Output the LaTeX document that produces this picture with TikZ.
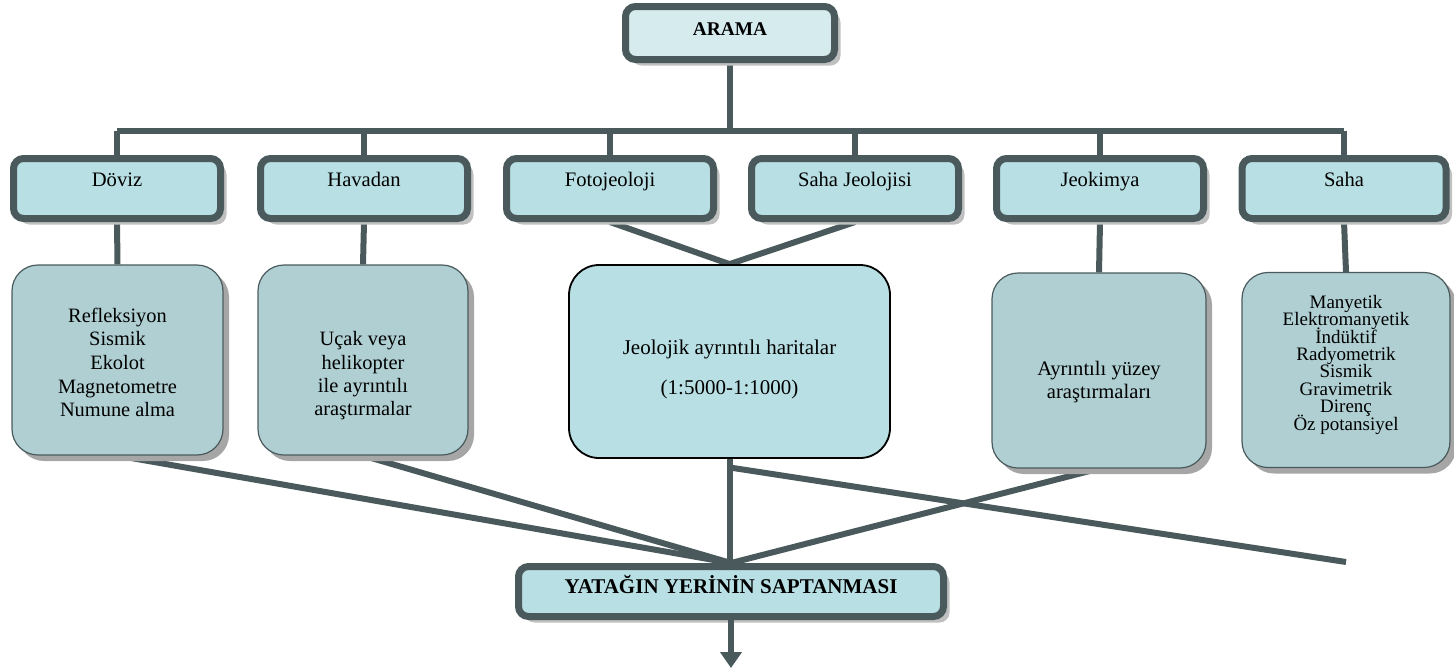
\documentclass[tikz,border=0pt]{standalone}
\usepackage{fontspec}
\setmainfont{Liberation Serif}
\usepackage{tikz}
\usetikzlibrary{shapes, arrows.meta, backgrounds, shadows, calc}
\definecolor{slate}{RGB}{74,90,92}
\definecolor{pale}{RGB}{214,235,238}
\definecolor{aqua}{RGB}{184,223,227}
\definecolor{sea}{RGB}{175,207,210}
\definecolor{shade}{RGB}{192,192,192}
\newcommand{\tightlines}{\lineskiplimit=-10pt\relax}

\tikzset{
    head/.style = {rectangle, rounded corners = 5pt, draw = slate, line width = 3.5pt, fill = pale, inner sep = 0pt,
        drop shadow = {shadow xshift = 3pt, shadow yshift = -3pt, fill = shade, opacity = 1}},
    branch/.style = {head, fill = aqua, minimum width = 103.5pt, text height = 13.75pt, text depth = 16.25pt,
        font = \fontsize{10.3}{12.5}\selectfont},
    plate/.style = {rectangle, rounded corners = 13pt, draw = slate, line width = 0.6pt, fill = sea, inner sep = 0pt,
        align = center, text depth = 4pt, font = \fontsize{10.2}{11.6}\selectfont},
    method/.style = {plate, drop shadow = {shadow xshift = 3pt, shadow yshift = -3pt, fill = black!35, opacity = 1}},
    link/.style = {draw = slate, line width = 3pt}
}

\begin{document}
\begin{tikzpicture}[x = 0.5pt, y = -0.5pt]
        \useasboundingbox (0, 0) rectangle (1454, 670);

        \node (arama) [head, minimum width = 104.5pt, text height = 14.25pt, text depth = 12.25pt,
            font = \fontsize{9.7}{12}\selectfont\bfseries, anchor = base] at (730, 35) {ARAMA};

        \node (doviz) [branch, anchor = base] at (117, 186) {Döviz};
        \node (havadan) [branch, anchor = base] at (364, 186) {Havadan};
        \node (foto) [branch, anchor = base] at (610, 186) {Fotojeoloji};
        \node (sahajeo) [branch, anchor = base] at (855, 186) {Saha Jeolojisi};
        \node (jeokimya) [branch, anchor = base] at (1100, 186) {Jeokimya};
        \node (saha) [branch, anchor = base, minimum width = 102pt] at (1344, 186) {Saha};

        \node (deniz) [method, minimum width = 105.5pt, minimum height = 95pt, text height = 60.7pt,
            font = \fontsize{10.2}{11.8}\selectfont] at (117.5, 360)
            {Refleksiyon\\Sismik\\Ekolot\\Magnetometre\\Numune alma};
        \node (ucak) [method, minimum width = 105pt, minimum height = 95pt, text height = 59.5pt] at (363, 360)
            {Uçak veya\\helikopter\\ile ayrıntılı\\araştırmalar};
        \node (harita) [plate, fill = aqua, draw = black, line width = 0.9pt, rounded corners = 15pt,
            minimum width = 160.5pt, minimum height = 96.5pt, text height = 36.5pt,
            font = \fontsize{10.5}{12.5}\selectfont] at (729.5, 361.5)
            {Jeolojik ayrıntılı haritalar\\[7.5pt](1:5000-1:1000)};
        \node (yuzey) [method, minimum width = 107pt, minimum height = 97.5pt, text height = 31.8pt,
            font = \fontsize{10.3}{11.5}\selectfont] at (1099, 370.5)
            {Ayrıntılı yüzey\\araştırmaları};
        \node (jeofizik) [method, minimum width = 104pt, minimum height = 97.5pt, text height = 64pt,
            font = {\fontsize{9.5}{8.7}\selectfont\tightlines}] at (1346, 370)
            {Manyetik\\Elektromanyetik\\İndüktif\\Radyometrik\\Sismik\\Gravimetrik\\Direnç\\Öz potansiyel};

        \node (yatak) [head, fill = aqua, minimum width = 212.5pt, text height = 13.25pt, text depth = 11.75pt,
            font = \fontsize{10.5}{12.5}\selectfont\bfseries, anchor = base] at (731, 593) {YATAĞIN YERİNİN SAPTANMASI};

        \coordinate (bus) at (0, 131);
        \coordinate (loose) at (1346, 562);
        \coordinate (out) at (731, 668);

        \begin{scope}[on background layer]
            \draw [link] (arama.south) -- (arama.south |- bus);
            \draw [link] (doviz.north |- bus) -- (saha.north |- bus);
            \foreach \n in {doviz, havadan, foto, sahajeo, jeokimya, saha}
            {
                \draw [link] (\n.north |- bus) -- (\n.north);
            }

            \draw [link] (doviz.south) -- (deniz.north);
            \draw [link] (havadan.south) -- (ucak.north);
            \draw [link] (jeokimya.south) -- (yuzey.north);
            \draw [link] (saha.south) -- (jeofizik.north);
            \draw [link] (foto.south) -- (harita.north);
            \draw [link] (sahajeo.south) -- (harita.north);

            \draw [link] (deniz.south) -- (yatak.north);
            \draw [link] (ucak.south) -- (yatak.north);
            \draw [link] (yuzey.south) -- (yatak.north);
            \draw [link] (harita.south) -- (harita.south |- yatak.north);
            \draw [link] ($(harita.south) + (3, 9)$) -- (loose);
        \end{scope}

        \draw [link, -{Triangle[width = 10.5pt, length = 8pt]}] (yatak.south) -- (out);
    \end{tikzpicture}
\end{document}
